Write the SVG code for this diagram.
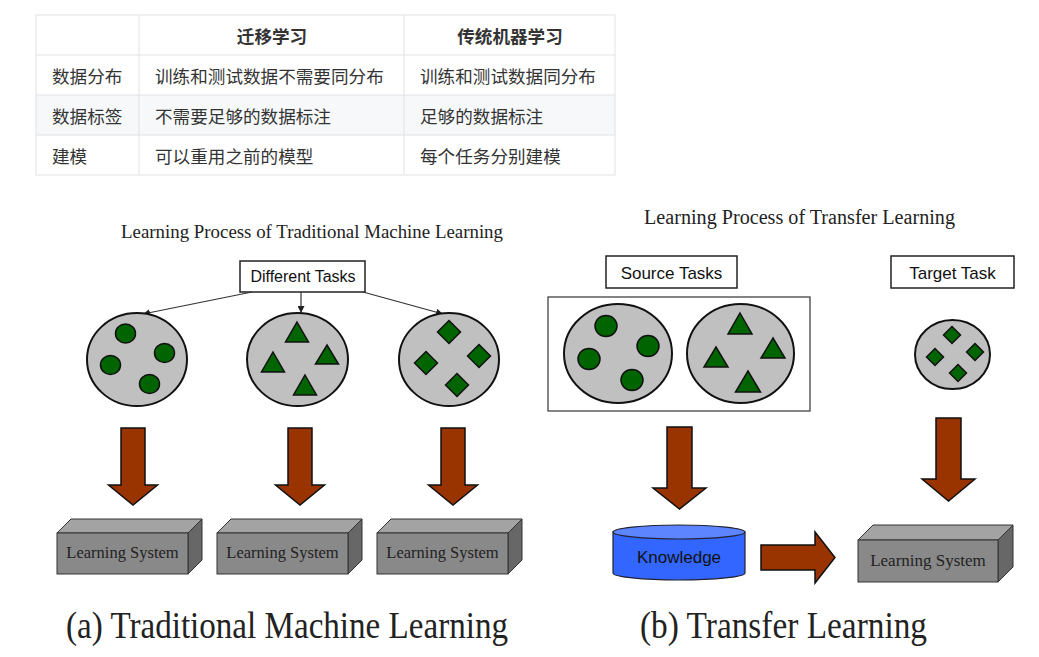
<svg xmlns="http://www.w3.org/2000/svg" width="1039" height="657" viewBox="0 0 1039 657">
<style>
.cjk{font-family:"Noto Sans CJK SC","Noto Sans",sans-serif;font-size:17.6px;fill:#333;dominant-baseline:central}
.hd{font-weight:bold;text-anchor:middle}
.grid{stroke:#dfe2e5;stroke-width:1;fill:none}
.sans{font-family:"Liberation Sans",Arial,sans-serif;fill:#111;text-anchor:middle}
.serif{font-family:"Liberation Serif","Times New Roman",serif;fill:#222;text-anchor:middle}
.lbl{fill:#fff;stroke:#222;stroke-width:1.5}
.pool{fill:#c0c0c0;stroke:#111;stroke-width:2}
.item{fill:#006400;stroke:#111;stroke-width:1.5}
.big{fill:#993300;stroke:#111;stroke-width:1.5;stroke-linejoin:miter}
.front{fill:#898989;stroke:#333;stroke-width:1}
.top{fill:#a3a3a3;stroke:#333;stroke-width:1}
.side{fill:#676767;stroke:#333;stroke-width:1}
.thin{stroke:#333;stroke-width:1.2;fill:none}
</style>
<defs>
<marker id="ah" viewBox="0 0 10 10" refX="10" refY="5" markerWidth="7" markerHeight="7" markerUnits="userSpaceOnUse" orient="auto">
<path d="M0,0 L10,5 L0,10 Z" fill="#222"/>
</marker>
<path id="darr" d="M-12,0 H12 V57 H24.5 L0,77 L-24.5,57 H-12 Z"/>
</defs>
<rect width="1039" height="657" fill="#fff"/>

<g id="table">
<rect x="36" y="95" width="579" height="40" fill="#f6f8fa"/>
<rect x="36" y="15" width="579" height="160" class="grid"/>
<line x1="36" y1="55" x2="615" y2="55" class="grid"/>
<line x1="36" y1="95" x2="615" y2="95" class="grid"/>
<line x1="36" y1="135" x2="615" y2="135" class="grid"/>
<line x1="139" y1="15" x2="139" y2="175" class="grid"/>
<line x1="404" y1="15" x2="404" y2="175" class="grid"/>
<text class="cjk hd" x="272" y="35">迁移学习</text>
<text class="cjk hd" x="510" y="35">传统机器学习</text>
<text class="cjk" x="52" y="75">数据分布</text>
<text class="cjk" x="155" y="75">训练和测试数据不需要同分布</text>
<text class="cjk" x="420" y="75">训练和测试数据同分布</text>
<text class="cjk" x="52" y="115">数据标签</text>
<text class="cjk" x="155" y="115">不需要足够的数据标注</text>
<text class="cjk" x="420" y="115">足够的数据标注</text>
<text class="cjk" x="52" y="155">建模</text>
<text class="cjk" x="155" y="155">可以重用之前的模型</text>
<text class="cjk" x="420" y="155">每个任务分别建模</text>
</g>

<g id="title-left"><text class="serif" x="312" y="238" font-size="18.5" textLength="382" lengthAdjust="spacingAndGlyphs">Learning Process of Traditional Machine Learning</text></g>
<g id="title-right"><text class="serif" x="799.5" y="224" font-size="20" textLength="311" lengthAdjust="spacingAndGlyphs">Learning Process of Transfer Learning</text></g>

<g id="different-tasks">
<rect x="240" y="261" width="125" height="31" class="lbl"/>
<text class="sans" x="303" y="282" font-size="16">Different Tasks</text>
</g>

<g id="connectors">
<line x1="252" y1="292" x2="143" y2="314" class="thin" marker-end="url(#ah)"/>
<line x1="301" y1="292" x2="301" y2="313" class="thin" marker-end="url(#ah)"/>
<line x1="363" y1="292" x2="443" y2="314" class="thin" marker-end="url(#ah)"/>
<use href="#darr" class="big" transform="translate(133,428)"/>
<use href="#darr" class="big" transform="translate(300,428)"/>
<use href="#darr" class="big" transform="translate(453,428)"/>
<path class="big" d="M667,427 H692 V488 H706 L679.5,509 L653,488 H667 Z"/>
<path class="big" d="M936,418 H961 V479 H975 L948.5,501 L922,479 H936 Z"/>
<path class="big" d="M761,545 H815 V532 L835,557.5 L815,583 V570 H761 Z"/>
</g>

<g id="pool-circles-left">
<ellipse cx="137" cy="359.5" rx="50" ry="46.5" class="pool"/>
<ellipse cx="125.5" cy="333.5" rx="10" ry="9.5" class="item"/>
<ellipse cx="164.5" cy="353" rx="10" ry="9.5" class="item"/>
<ellipse cx="110.5" cy="365" rx="10" ry="9.5" class="item"/>
<ellipse cx="149.5" cy="384" rx="10" ry="9.5" class="item"/>
</g>

<g id="pool-triangles-left">
<ellipse cx="297.5" cy="359.5" rx="50.5" ry="46.5" class="pool"/>
<polygon points="297,322 308.5,342 285.5,342" class="item"/>
<polygon points="273,352 284.5,372 261.5,372" class="item"/>
<polygon points="327,345 338.5,364 315.5,364" class="item"/>
<polygon points="305,375 316.5,395 293.5,395" class="item"/>
</g>

<g id="pool-diamonds-left">
<ellipse cx="449" cy="359.5" rx="50" ry="46.5" class="pool"/>
<polygon points="449,320.5 460.5,332 449,343.5 437.5,332" class="item"/>
<polygon points="426,351.5 437.5,363 426,374.5 414.5,363" class="item"/>
<polygon points="479,344.5 490.5,356 479,367.5 467.5,356" class="item"/>
<polygon points="457,373.5 468.5,385 457,396.5 445.5,385" class="item"/>
</g>

<g id="ls-1">
<polygon points="57,533 71,519 202,519 188,533" class="top"/>
<polygon points="188,533 202,519 202,560 188,574" class="side"/>
<rect x="57" y="533" width="131" height="41" class="front"/>
<text class="serif" x="122.5" y="558" font-size="16.5">Learning System</text>
</g>
<g id="ls-2">
<polygon points="217,533 231,519 362,519 348,533" class="top"/>
<polygon points="348,533 362,519 362,560 348,574" class="side"/>
<rect x="217" y="533" width="131" height="41" class="front"/>
<text class="serif" x="282.5" y="558" font-size="16.5">Learning System</text>
</g>
<g id="ls-3">
<polygon points="377,533 391,519 522,519 508,533" class="top"/>
<polygon points="508,533 522,519 522,560 508,574" class="side"/>
<rect x="377" y="533" width="131" height="41" class="front"/>
<text class="serif" x="442.5" y="558" font-size="16.5">Learning System</text>
</g>

<g id="source-tasks">
<rect x="606" y="256" width="131" height="32" class="lbl"/>
<text class="sans" x="671.5" y="279" font-size="17">Source Tasks</text>
</g>
<g id="target-task">
<rect x="891" y="256" width="123" height="32" class="lbl"/>
<text class="sans" x="952.5" y="279" font-size="17">Target Task</text>
</g>

<g id="source-group">
<rect x="548" y="297" width="262" height="114" fill="#fff" stroke="#333" stroke-width="1.2"/>
<ellipse cx="618" cy="353.5" rx="54" ry="49.5" class="pool"/>
<ellipse cx="606" cy="326" rx="11" ry="10.5" class="item"/>
<ellipse cx="648" cy="346" rx="11" ry="10.5" class="item"/>
<ellipse cx="589" cy="359" rx="11" ry="10.5" class="item"/>
<ellipse cx="632" cy="380" rx="11" ry="10.5" class="item"/>
<ellipse cx="740.5" cy="353.5" rx="53.5" ry="49.5" class="pool"/>
<polygon points="740,313 752,334 728,334" class="item"/>
<polygon points="716,347 728,367 704,367" class="item"/>
<polygon points="773,338 785,358 761,358" class="item"/>
<polygon points="748,371 760.5,392 735.5,392" class="item"/>
</g>

<g id="target-pool">
<ellipse cx="952.5" cy="354.5" rx="37.5" ry="34.5" class="pool"/>
<polygon points="952,326.5 960.5,335 952,343.5 943.5,335" class="item"/>
<polygon points="935,348.5 943.5,357 935,365.5 926.5,357" class="item"/>
<polygon points="975,343.5 983.5,352 975,360.5 966.5,352" class="item"/>
<polygon points="958,364.5 966.5,373 958,381.5 949.5,373" class="item"/>
</g>

<g id="knowledge">
<path d="M613,532 V573 A66,7 0 0 0 745,573 V532 Z" fill="#3366ff" stroke="#223" stroke-width="1.2"/>
<ellipse cx="679" cy="532" rx="66" ry="7" fill="#5c85ff" stroke="#223" stroke-width="1.2"/>
<text class="sans" x="679" y="563" font-size="17">Knowledge</text>
</g>

<g id="ls-4">
<polygon points="858,540 873,525 1013,525 998,540" class="top"/>
<polygon points="998,540 1013,525 1013,567 998,582" class="side"/>
<rect x="858" y="540" width="140" height="42" class="front"/>
<text class="serif" x="928" y="566" font-size="17">Learning System</text>
</g>

<g id="captions">
<text class="serif" x="287" y="638" font-size="37" fill="#111" textLength="442" lengthAdjust="spacingAndGlyphs">(a)  Traditional Machine Learning</text>
<text class="serif" x="783.5" y="638" font-size="37" fill="#111" textLength="287" lengthAdjust="spacingAndGlyphs">(b)  Transfer Learning</text>
</g>
</svg>
